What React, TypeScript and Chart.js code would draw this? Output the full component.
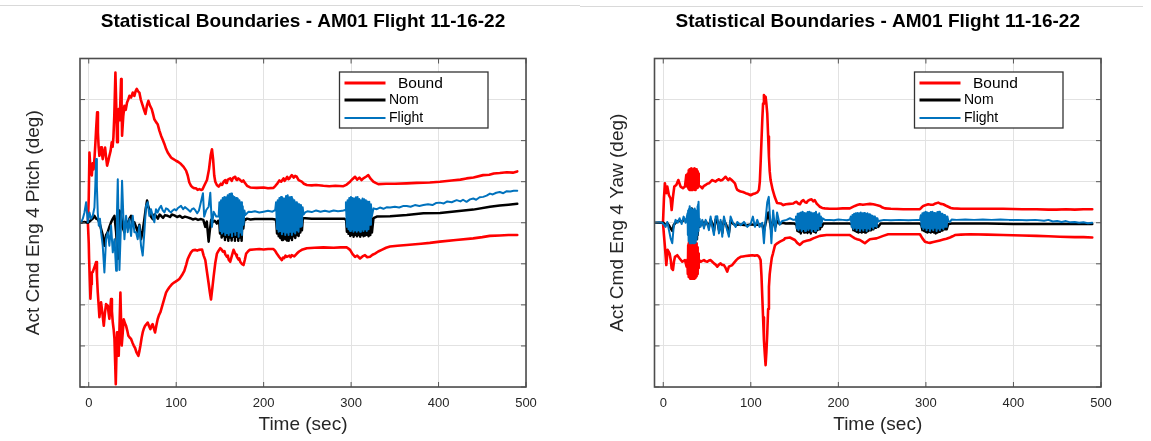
import React, { useEffect, useRef } from "react";
import { Chart, registerables } from "chart.js";

Chart.register(...registerables);

type Pt = [number, number];

// ---------- axes / labels ----------
const X_TICKS = [0, 100, 200, 300, 400, 500];
const Y_GRID = [-4, -3, -2, -1, 0, 1, 2, 3, 4];
const X_RANGE = [-10, 500];
const Y_RANGE = [-4, 4];
const TITLE = "Statistical Boundaries - AM01 Flight 11-16-22";
const X_LABEL = "Time (sec)";
const PITCH_LABEL = "Act Cmd Eng 4 Pitch (deg)";
const YAW_LABEL = "Act Cmd Eng 4 Yaw (deg)";
const LEGEND_NAMES = ["Bound", "Nom", "Flight"];

// ---------- PITCH (left) ----------
const pitchBoundUpper: Pt[] = [
  [-1, 0], [0, 0.6], [0.8, 1.71], [2, 1.3], [3.5, 1.15], [4.5, 1.45], [5.5, 1.3], [6.5, 1.55], [7.5, 1.9], [8.5, 2.3],
  [9.6, 2.69], [10.5, 2.2], [11.3, 1.85], [12.2, 1.63], [13.2, 1.75], [14.1, 1.84], [15, 1.7], [16, 1.55], [17, 1.7],
  [18.7, 1.83], [19.8, 1.6], [21, 1.39], [22.3, 1.5], [23.6, 1.63], [25, 1.75], [26.3, 1.96], [27.3, 1.85], [28.2, 2.08],
  [29.2, 2.6], [30.5, 3.66], [31.4, 2.9], [32.4, 1.96], [33.3, 2.4], [34.3, 2.77], [35.5, 2.5], [36.2, 3.0], [37, 3.5],
  [37.6, 2.8], [38.1, 2.12], [39.5, 2.6], [40.8, 2.85], [42.3, 2.75], [43.8, 2.93], [45.2, 3.0], [46.5, 3.09], [48.4, 3.05],
  [50.3, 3.17], [51.3, 3.1], [52.2, 3.09], [53.5, 3.2], [54.9, 3.26], [56.4, 3.2], [57.9, 3.17], [59.5, 3.0], [61.7, 2.85],
  [63.2, 2.75], [64.8, 2.65], [66.5, 2.85], [68.2, 2.97], [70, 2.85], [72, 2.77], [73.5, 2.65], [75, 2.52], [77, 2.45],
  [78.8, 2.4], [80.7, 2.25], [82.7, 2.12], [84.6, 2.02], [86.5, 1.92], [88.4, 1.8], [90.3, 1.71], [92.2, 1.65], [94.1, 1.59],
  [96, 1.56], [99.8, 1.51], [102.5, 1.48], [105.5, 1.43], [108.5, 1.36], [111.3, 1.27], [113.2, 1.15], [115, 0.98], [117, 0.9],
  [118.8, 0.86], [120.7, 0.84], [122.6, 0.84], [124.5, 0.8], [126.5, 0.82], [128.4, 0.8], [130, 0.81], [132, 0.9],
  [135.2, 1.04], [137.5, 1.3], [139.5, 1.65], [140.9, 1.79], [142.2, 1.55], [143.5, 1.15], [144.7, 1.0], [146.5, 0.92],
  [148.5, 0.88], [151, 0.95], [152.5, 0.92], [154.2, 1.0], [156, 1.04], [157, 0.97], [158, 0.98], [159, 1.05], [160, 1.06],
  [161.8, 1.08], [163.5, 1.02], [164.5, 1.07], [165.5, 1.1], [167.5, 1.12], [168.5, 1.06], [169.5, 1.04], [171, 1.08],
  [173.2, 1.04], [175, 1.0], [176.8, 1.03], [178.9, 0.96], [181, 0.9], [184.6, 0.86], [192.2, 0.85], [200, 0.86], [205, 0.84],
  [211.2, 0.85], [213.5, 0.9], [215.8, 0.96], [218, 1.03], [220, 1.0], [222.7, 1.08], [224, 1.02], [225, 1.05], [227, 1.12],
  [228.3, 1.06], [229.5, 1.08], [231, 1.13], [232.2, 1.16], [234.5, 1.1], [236, 1.14], [237.9, 1.12], [240, 1.04],
  [243.6, 1.0], [246, 0.95], [249.3, 0.92], [255, 0.91], [260, 0.92], [268.3, 0.9], [275, 0.89], [282, 0.9], [291.2, 0.89],
  [295, 0.93], [298.8, 1.0], [301.5, 1.06], [304.5, 1.12], [307, 1.05], [309.5, 1.1], [312, 1.04], [314, 1.08], [317, 1.12],
  [319.7, 1.16], [322, 1.08], [325.4, 1.0], [328, 0.97], [331.1, 0.94], [340, 0.95], [350, 0.95], [363.5, 0.96], [375, 0.97],
  [390, 0.98], [401.5, 1.0], [415, 1.03], [425, 1.05], [432, 1.08], [440, 1.1], [451, 1.16], [458, 1.17], [463.2, 1.2],
  [470, 1.21], [478, 1.23], [485, 1.22], [490, 1.25],
];

const pitchBoundLower: Pt[] = [
  [-1, 0], [0, -0.5], [0.4, -0.88], [1.9, -1.85], [2.8, -1.5], [3.5, -1.21], [4.6, -1.2], [5.7, -1.13], [7, -1.05],
  [8.4, -0.96], [9.4, -1.3], [10.3, -1.69], [11.3, -2.0], [12.2, -2.3], [13.2, -2.1], [14.1, -1.94], [15.6, -2.2],
  [17.2, -2.51], [18.5, -2.2], [19.8, -1.98], [21.7, -2.02], [22.7, -2.2], [23.6, -2.34], [24.5, -2.1], [25.5, -1.86],
  [26.5, -2.15], [27.5, -2.43], [28.5, -2.6], [29.4, -2.83], [30.2, -3.4], [30.9, -3.93], [31.7, -3.2], [32.4, -2.67],
  [33.3, -2.95], [34.3, -3.24], [35.2, -2.5], [36.2, -1.7], [37, -2.4], [37.7, -2.99], [38.8, -2.7], [40, -2.35],
  [41.4, -2.45], [42.7, -2.51], [44, -2.62], [45.3, -2.75], [47, -2.8], [48.4, -2.83], [50, -2.92], [51.4, -2.99],
  [53, -3.05], [54.5, -3.15], [55.7, -3.2], [56.8, -3.24], [58, -3.12], [59.1, -2.99], [60.5, -2.8], [61.7, -2.67],
  [63, -2.58], [64.4, -2.51], [66, -2.47], [67.4, -2.43], [69, -2.52], [70.5, -2.59], [72, -2.5], [73.1, -2.47],
  [74.5, -2.58], [75.8, -2.67], [77.3, -2.5], [78.8, -2.35], [80.3, -2.25], [81.9, -2.18], [83.3, -2.08], [84.6, -1.98],
  [86.5, -1.84], [88.4, -1.7], [90.3, -1.63], [92.2, -1.57], [95, -1.5], [98, -1.45], [101, -1.41], [103.6, -1.37],
  [106.5, -1.28], [109.3, -1.17], [111.3, -1.03], [113.1, -0.89], [115, -0.8], [116.9, -0.72], [119, -0.67], [121.9, -0.66],
  [124, -0.68], [126, -0.66], [129.5, -0.65], [131.4, -0.8], [133.3, -0.91], [135.2, -1.2], [137.1, -1.48], [138.5, -1.7],
  [139.8, -1.87], [141.3, -1.6], [142.8, -1.31], [144.7, -0.98], [146.6, -0.75], [148.5, -0.68], [150.4, -0.62],
  [152.3, -0.66], [153.2, -0.7], [154.2, -0.71], [155.2, -0.69], [156.1, -0.77], [158, -0.83], [159, -0.8], [160, -0.9],
  [161.8, -0.95], [163.7, -0.8], [165.6, -0.66], [167.5, -0.75], [168.5, -0.78], [169.4, -0.83], [171.3, -0.9], [172.2, -0.87],
  [173.2, -0.95], [175, -1.0], [177, -1.03], [178.5, -0.9], [180, -0.75], [182, -0.7], [183.9, -0.66], [188.5, -0.65],
  [195, -0.64], [200, -0.65], [205, -0.64], [211.2, -0.64], [213, -0.68], [215, -0.75], [218, -0.84], [220.8, -0.91],
  [222.2, -0.85], [223.5, -0.86], [225, -0.8], [226.5, -0.83], [229.5, -0.8], [230.8, -0.84], [232.2, -0.79], [235, -0.82],
  [238, -0.75], [240.5, -0.7], [243.6, -0.66], [246.5, -0.64], [249.3, -0.62], [258, -0.61], [268.3, -0.6], [280, -0.61],
  [288, -0.6], [294.9, -0.6], [297, -0.63], [298.8, -0.66], [301.5, -0.76], [304.5, -0.83], [307, -0.8], [310.2, -0.87],
  [313, -0.82], [315.9, -0.79], [318.5, -0.84], [321.6, -0.83], [324.5, -0.78], [327.3, -0.75], [331, -0.7], [335, -0.66],
  [340, -0.61], [344.5, -0.58], [353, -0.56], [363.5, -0.54], [380, -0.51], [390, -0.49], [401.5, -0.46], [420, -0.42],
  [439.6, -0.38], [450, -0.35], [458.6, -0.32], [470, -0.31], [480, -0.3], [490, -0.3],
];

const pitchNom: Pt[] = [
  [-9, 0], [-5, 0.02], [-1, 0], [2, 0.05], [4.6, 0.1], [6.5, 0.17], [8.4, 0.1], [10.3, 0.08], [12.2, 0.01], [14.1, -0.15],
  [16, -0.3], [17.9, -0.56], [19.8, -0.3], [21.7, -0.23], [23.6, -0.1], [25.5, 0.01], [27.5, 0.1], [29.4, 0.17],
  [31.3, -0.23], [33.2, -0.88], [34.2, -0.3], [35.1, 0.3], [37, 0.17], [38.5, -0.1], [40.8, -0.23], [42.7, 0.05],
  [44.6, -0.07], [46.5, 0.1], [48.4, 0.17], [50.3, -0.05], [52.2, 0.01], [54.1, -0.1], [56, -0.23], [57.9, -0.05],
  [59.8, -0.4], [61.7, -0.2], [63.6, 0.09], [65.2, 0.35], [66.7, 0.54], [68, 0.4], [69.3, 0.33], [71, 0.15], [73.1, 0.09],
  [75, 0.2], [76.9, 0.17], [79, 0.1], [81, 0.2], [82.7, 0.17], [85, 0.12], [87, 0.18], [90.3, 0.17], [93, 0.14], [95, 0.2],
  [97.9, 0.18], [101, 0.14], [104, 0.17], [107, 0.12], [110, 0.15], [113.1, 0.13], [116, 0.11], [119, 0.08], [122, 0.1],
  [125, 0.07], [128.4, 0.09], [131, 0.07], [133.3, -0.1], [135, 0.03], [137.1, -0.46], [138.5, -0.18], [140, 0.07],
  [142, 0.02], [144, 0.05], [146.5, -0.02],
  [148, 0.05], [149.2, 0.03], [150.1, -0.26], [151.1, 0.12], [152, -0.36], [153, 0.15], [153.9, -0.32], [154.9, 0.12],
  [155.8, -0.42], [156.8, 0.18], [157.7, -0.35], [158.7, 0.14], [159.6, -0.44], [160.6, 0.12], [161.5, -0.36], [162.5, 0.15],
  [163.4, -0.43], [164.4, 0.1], [165.3, -0.34], [166.3, 0.12], [167.2, -0.44], [168.2, 0.15], [169.1, -0.34], [170.1, 0.12],
  [171, -0.44], [172, 0.1], [172.9, -0.36], [173.9, 0.12], [174.8, -0.44], [175.8, 0.1], [176.7, -0.14], [178, 0.1],
  [179, 0.07],
  [181, 0.1], [185, 0.08], [190, 0.09], [200, 0.09], [210, 0.09],
  [213.5, 0.08], [214.4, 0.03], [215.3, -0.26], [216.3, 0.1], [217.2, -0.33], [218.2, 0.12], [219.1, -0.37], [220.1, 0.1],
  [221, -0.42], [222, 0.14], [222.9, -0.34], [223.9, 0.1], [224.8, -0.4], [225.8, 0.12], [226.7, -0.43], [227.7, 0.1],
  [228.6, -0.44], [229.6, 0.13], [230.5, -0.37], [231.5, 0.1], [232.4, -0.42], [233.4, 0.1], [234.3, -0.33], [235.3, 0.12],
  [236.2, -0.37], [237.2, 0.1], [238.1, -0.3], [239.1, 0.1], [240, -0.32], [241, 0.1], [241.9, -0.24], [242.9, 0.1],
  [243.8, -0.18], [244.8, 0.11], [247.5, 0.11],
  [255, 0.1], [270, 0.1], [285, 0.1], [292, 0.1],
  [293.5, 0.08], [294.3, 0.07], [295.2, -0.22], [296.2, 0.1], [297.1, -0.27], [298.2, 0.12], [299.1, -0.32], [300.1, 0.1],
  [301, -0.29], [302, 0.12], [302.9, -0.34], [303.9, 0.1], [304.8, -0.29], [305.8, 0.12], [306.7, -0.33], [307.7, 0.1],
  [308.6, -0.3], [309.6, 0.1], [310.5, -0.34], [311.5, 0.12], [312.4, -0.29], [313.4, 0.1], [314.3, -0.33], [315.3, 0.1],
  [316.2, -0.31], [317.2, 0.1], [318.1, -0.29], [319.1, 0.1], [320, -0.33], [321, 0.1], [321.9, -0.3], [322.9, 0.1],
  [323.8, -0.24], [325.6, 0.11],
  [329.4, 0.15], [344.6, 0.16], [363.6, 0.19], [382.7, 0.23], [401.7, 0.24], [420.7, 0.28], [439.7, 0.32], [458.8, 0.39],
  [470, 0.42], [480, 0.44], [490, 0.46],
];

const pitchFlight: Pt[] = [
  [-9, 0], [-6.8, 0.1], [-4.9, 0.25], [-3, 0.5], [-1.1, 0.01], [0.8, 0.25], [2.7, 0.1], [4.6, 0.17], [6.5, 0.37],
  [7.5, 0.9], [8.4, 1.55], [9.3, 0.9], [10.3, 0.25], [11.5, -0.07], [12.8, 0.1], [14.1, -0.23], [16, -0.56], [17.9, -1.21],
  [19.8, -0.4], [21.7, -0.23], [23.6, -0.56], [25.5, -0.07], [27.5, -0.72], [29.4, -0.4], [31.3, -1.17], [32.2, 0.2],
  [33.2, 1.06], [34.1, 0], [35.1, -1.15], [36.6, -0.2], [38.1, 1.02], [39.5, 0.2], [40.8, -0.4], [42.7, 0.17],
  [44.6, -0.23], [46.5, 0.09], [48.4, -0.32], [50.3, 0.17], [52.2, -0.23], [54.1, -0.23], [56, -0.4], [57.9, -0.07],
  [59.8, -0.56], [61.7, -0.8], [63.6, -0.23], [65.5, 0.41], [67.4, 0.5], [69.3, 0.17], [71.2, 0.33], [73.1, 0.17],
  [75, 0.01], [76.9, 0.33], [78.8, 0.25], [80.7, 0.35], [82.7, 0.41], [84.6, 0.3], [86.5, 0.25], [88.4, 0.35], [90.3, 0.33],
  [92.2, 0.28], [94.1, 0.25], [96, 0.3], [97.9, 0.33], [100, 0.3], [102, 0.36], [105.5, 0.41], [108, 0.33], [110, 0.38],
  [113.1, 0.33], [116.2, 0.27], [118, 0.33], [120, 0.35], [122, 0.3], [124, 0.23], [126, 0.3], [127.5, 0.43], [130.6, 0.72],
  [132, 0.15], [134.4, 0.31], [137.1, 0.39], [139, 0.73], [140.9, -0.1], [142.8, 0.27], [145.8, 0.15],
  [148.5, 0.15], [149.4, 0.5], [150.4, -0.2], [151.3, 0.55], [152.3, -0.26], [153.2, 0.6], [154.2, -0.22], [155.1, 0.63],
  [156.1, -0.3], [157, 0.62], [158, -0.25], [158.9, 0.67], [160, -0.3], [160.9, 0.7], [161.8, -0.24], [162.8, 0.71],
  [163.8, -0.33], [164.7, 0.66], [165.7, -0.22], [166.6, 0.63], [167.6, -0.3], [168.5, 0.6], [169.5, -0.2], [170.4, 0.59],
  [171.4, -0.34], [172.3, 0.55], [173.3, -0.24], [174.2, 0.5], [175.2, -0.3], [176.1, 0.4], [177.1, -0.05], [178, 0.3],
  [179, 0.19], [182.8, 0.27],
  [186, 0.26], [190, 0.28], [195, 0.25], [200, 0.27], [205, 0.29], [210, 0.27],
  [213.2, 0.31], [214.2, 0.5], [215.2, -0.15], [216.1, 0.55], [217.1, -0.22], [218, 0.6], [219, -0.2], [219.9, 0.63],
  [220.9, -0.28], [221.8, 0.6], [222.8, -0.22], [223.7, 0.59], [224.7, -0.3], [225.6, 0.65], [226.6, -0.24], [227.5, 0.67],
  [228.5, -0.3], [229.4, 0.62], [230.4, -0.22], [231.3, 0.63], [232.3, -0.3], [233.2, 0.58], [234.2, -0.22], [235.1, 0.55],
  [236.1, -0.26], [237, 0.5], [238, -0.18], [238.9, 0.47], [239.9, -0.22], [240.8, 0.45], [241.8, -0.1], [242.7, 0.43],
  [243.7, -0.08], [244.6, 0.38], [245.6, 0.2], [247.5, 0.25],
  [250, 0.28], [255, 0.26], [260, 0.3], [265, 0.27], [270, 0.29], [275, 0.27], [280, 0.3], [285, 0.28], [290, 0.29],
  [293.2, 0.31], [294.1, 0.5], [295.1, -0.1], [296, 0.55], [297, -0.16], [297.9, 0.6], [298.9, -0.2], [299.8, 0.63],
  [300.8, -0.16], [301.7, 0.6], [302.7, -0.22], [303.6, 0.59], [304.6, -0.18], [305.5, 0.62], [306.5, -0.22], [307.4, 0.63],
  [308.4, -0.18], [309.3, 0.58], [310.3, -0.22], [311.2, 0.55], [312.2, -0.16], [313.1, 0.59], [314.1, -0.2], [315, 0.57],
  [316, -0.16], [316.9, 0.55], [317.9, -0.2], [318.8, 0.52], [319.9, -0.16], [320.8, 0.51], [321.8, -0.05], [322.7, 0.45],
  [323.7, 0.15], [325.6, 0.35],
  [329.4, 0.33], [333, 0.37], [337, 0.34], [341, 0.38], [344.6, 0.37], [350, 0.39], [355, 0.37], [360, 0.41], [363.6, 0.41],
  [368, 0.39], [373, 0.43], [378, 0.41], [382.7, 0.43], [388, 0.45], [393, 0.43], [397, 0.48], [401.7, 0.49], [406, 0.47],
  [410, 0.52], [415, 0.5], [420.7, 0.55], [425, 0.52], [428, 0.56], [432, 0.51], [436, 0.57], [439.7, 0.59], [443, 0.56],
  [447, 0.62], [451, 0.63], [455, 0.66], [458.8, 0.71], [462, 0.69], [466, 0.73], [470, 0.75], [474, 0.72], [478, 0.77],
  [482, 0.76], [486, 0.78], [490, 0.78],
];

// ---------- YAW (right) ----------
const yawBoundUpper: Pt[] = [
  [-0.3, 0], [0.8, 0.6], [1.9, 0.96], [3.5, 0.72], [4.6, 0.88], [6.5, 0.67], [8.4, 0.59], [9.6, 0.31], [11.1, 0.63],
  [12.6, 0.88], [14.9, 0.92], [17.2, 1.04], [19.8, 0.88], [22.5, 0.84], [24.8, 0.88], [26.3, 1.16], [27.5, 0.88],
  [27.9, 1.0], [28.2, 1.2], [28.5, 0.85], [28.8, 1.28], [29.1, 0.82], [29.4, 1.25], [29.7, 0.9], [30, 1.3], [30.3, 0.8],
  [30.6, 1.22], [30.9, 0.84], [31.2, 1.3], [31.5, 0.86], [31.8, 1.32], [32.1, 0.8], [32.4, 1.26], [32.7, 0.88], [33, 1.3],
  [33.3, 0.82], [33.6, 1.2], [33.9, 0.8], [34.2, 1.28], [34.5, 0.85], [34.8, 1.3], [35.1, 0.88], [35.4, 1.32], [35.7, 0.84],
  [36, 1.25], [36.3, 0.8], [36.6, 1.28], [36.9, 0.86], [37.2, 1.3], [37.5, 0.84], [37.8, 1.26], [38.1, 0.88], [38.4, 1.3],
  [38.7, 0.85], [39, 1.22], [39.3, 0.9], [39.6, 1.25], [39.9, 0.92], [40.2, 1.2], [40.5, 0.95], [40.8, 0.9],
  [42.7, 0.88], [44.6, 0.84], [46.5, 0.9], [48.4, 0.92], [50.3, 0.95], [52.2, 0.96], [54.1, 1.0], [56, 1.04], [57.9, 1.02],
  [59.8, 1.0], [61.7, 1.04], [63.6, 1.06], [65.5, 1.03], [67.4, 1.04], [69.3, 1.08], [71.2, 1.12], [73, 1.07], [74.3, 1.04],
  [76, 1.08], [78.1, 1.04], [80, 1.0], [81.9, 0.96], [83.3, 0.86], [84.6, 0.8], [86.5, 0.78], [88.4, 0.76], [91, 0.75],
  [94.1, 0.72], [97, 0.7], [99.8, 0.67], [102.5, 0.7], [105.5, 0.72], [107.5, 0.74], [109.3, 0.8], [110.3, 1.0],
  [111.2, 1.45], [112.2, 2.0], [113.1, 2.5], [114, 2.9], [115, 3.11], [116, 3.0], [116.9, 3.07], [117.8, 2.9], [118.8, 2.66],
  [119.8, 2.1], [120.7, 1.61], [121.6, 1.25], [122.6, 1.04], [125, 0.8], [127.5, 0.62], [130, 0.48], [134.1, 0.47],
  [137.1, 0.43], [140, 0.45], [144, 0.46], [148.5, 0.47], [150.5, 0.5], [152.3, 0.51], [154, 0.47], [156.1, 0.45],
  [158, 0.52], [160, 0.55], [162, 0.5], [163.7, 0.49], [165.5, 0.54], [167.5, 0.56], [169.4, 0.57], [171.5, 0.52],
  [173, 0.55], [175.1, 0.47], [177, 0.43], [178.9, 0.39], [181.5, 0.36], [184.6, 0.35], [190, 0.34], [197.9, 0.34],
  [205, 0.35], [213.2, 0.35], [216, 0.38], [218.9, 0.41], [221.5, 0.43], [224.6, 0.45], [228, 0.44], [232.3, 0.45],
  [236, 0.46], [239.9, 0.45], [243.5, 0.43], [247.5, 0.41], [250.5, 0.37], [253.2, 0.35], [260, 0.34], [274.1, 0.33],
  [285, 0.33], [293.2, 0.33], [295, 0.37], [297, 0.41], [300, 0.43], [302.7, 0.45], [305.5, 0.44], [308.4, 0.44],
  [311, 0.47], [314.1, 0.49], [317, 0.46], [319.8, 0.45], [322.5, 0.42], [325.5, 0.39], [328.5, 0.36], [331.2, 0.35],
  [340, 0.34], [350.3, 0.34], [370, 0.34], [388.3, 0.34], [410, 0.33], [426.4, 0.33], [440, 0.32], [449.2, 0.32],
  [460, 0.33], [470, 0.32], [480, 0.33], [490, 0.33],
];

const yawBoundLower: Pt[] = [
  [-0.3, 0], [0.8, -0.3], [1.9, -0.58], [3.5, -1.03], [5, -0.66], [7.3, -0.75], [8.5, -0.9], [9.6, -1.11], [11.1, -1.15],
  [12.2, -0.95], [13.4, -0.83], [16, -0.79], [18.7, -0.87], [21.7, -0.95], [24.8, -0.91], [26.7, -1.07], [27.5, -0.9],
  [27.9, -1.0], [28.2, -1.25], [28.5, -0.55], [28.8, -1.3], [29.1, -0.5], [29.4, -1.32], [29.7, -0.45], [30, -1.28],
  [30.3, -0.5], [30.6, -1.36], [30.9, -0.42], [31.2, -1.3], [31.5, -0.48], [31.8, -1.35], [32.1, -0.45], [32.4, -1.32],
  [32.7, -0.5], [33, -1.36], [33.3, -0.44], [33.6, -1.3], [33.9, -0.48], [34.2, -1.34], [34.5, -0.42], [34.8, -1.3],
  [35.1, -0.5], [35.4, -1.36], [35.7, -0.46], [36, -1.32], [36.3, -0.5], [36.6, -1.34], [36.9, -0.48], [37.2, -1.3],
  [37.5, -0.55], [37.8, -1.28], [38.1, -0.5], [38.4, -1.3], [38.7, -0.6], [39, -1.25], [39.3, -0.65], [39.6, -1.2],
  [39.9, -0.75], [40.2, -1.1], [40.5, -0.85], [40.8, -0.9],
  [42.7, -0.95], [44.6, -0.93], [46.5, -0.91], [48.4, -0.94], [50.3, -0.95], [52.2, -0.92], [54.1, -0.91], [56, -0.95],
  [57.9, -0.99], [59.8, -1.02], [61.7, -1.07], [63.6, -1.02], [65.5, -0.99], [67.4, -1.03], [69.3, -1.03], [71.2, -1.1],
  [73.1, -1.19], [75, -1.07], [76.9, -1.05], [78.8, -1.03], [81, -0.97], [83.4, -0.91], [86, -0.86], [88.4, -0.83],
  [91, -0.82], [94.1, -0.81], [98, -0.8], [101.7, -0.79], [104.5, -0.8], [107.4, -0.79], [109.5, -0.83], [111.2, -0.91],
  [112.2, -1.3], [113.1, -1.8], [114, -2.3], [115, -2.86], [116, -3.2], [116.9, -3.47], [117.8, -3.15], [118.8, -2.69],
  [119.8, -2.1], [120.7, -1.56], [121.6, -1.25], [122.6, -1.07], [124, -0.85], [125.3, -0.75], [127.6, -0.55],
  [130.2, -0.5], [133.3, -0.46], [137.9, -0.41], [139, -0.38], [141, -0.37], [144.7, -0.36], [147.5, -0.39], [150.4, -0.42],
  [153, -0.49], [156.1, -0.54], [158, -0.5], [160, -0.46], [163.7, -0.44], [167.5, -0.42], [171.3, -0.38], [175, -0.35],
  [178.9, -0.32], [186.5, -0.3], [200, -0.3], [213.2, -0.3], [216, -0.34], [218.9, -0.38], [221.5, -0.4], [224.6, -0.42],
  [227.5, -0.46], [230.3, -0.5], [233, -0.45], [236, -0.4], [240, -0.39], [243.6, -0.38], [247.5, -0.35], [251.2, -0.32],
  [256.9, -0.28], [270, -0.28], [285, -0.28], [293.2, -0.28], [296, -0.38], [298.9, -0.46], [302, -0.48], [304.6, -0.49],
  [308.5, -0.47], [312.2, -0.45], [316, -0.43], [319.8, -0.41], [323.5, -0.39], [327.5, -0.36], [330.5, -0.33],
  [333.2, -0.3], [340, -0.29], [350.3, -0.28], [370, -0.29], [388.3, -0.3], [410, -0.31], [426.4, -0.32], [440, -0.33],
  [453, -0.34], [470, -0.35], [480, -0.35], [490, -0.36],
];

const yawNom: Pt[] = [
  [-9, 0], [-5, 0], [0, 0], [2.7, -0.05], [5, -0.02], [7, -0.08], [10.3, -0.2], [12, -0.05], [15, 0.02], [18, 0.05],
  [21, 0.02], [24, 0.08], [26.5, 0.05], [28, 0.15], [28.8, -0.1], [29.5, 0.25], [30.3, -0.15], [31, 0.3], [31.8, -0.2],
  [32.5, 0.35], [33.3, -0.25], [34, 0.3], [34.8, -0.3], [35.5, 0.25], [36.3, -0.35], [37, 0.2], [37.8, -0.4], [38.5, 0.15],
  [39.3, -0.3], [40, 0.1], [41, -0.1], [42.7, -0.05], [44.6, 0.03], [46.5, -0.08], [48.4, 0.03], [50.3, -0.02],
  [52.2, -0.1], [54.1, 0.08], [56, -0.02], [57.9, -0.2], [59.8, 0.08], [61.7, 0.06], [63.6, -0.18], [65.5, 0.02],
  [67.4, -0.25], [69.3, 0.06], [72, -0.05], [75, -0.25], [76.9, 0.05], [79.6, -0.02], [82.7, -0.06], [86, -0.04],
  [90, -0.05], [95, -0.06], [100, -0.04], [105, -0.05], [110, -0.04], [113, -0.05], [115, -0.2], [117, 0], [120, 0.25],
  [122, 0], [123.5, -0.2], [125.5, 0.1], [128, -0.1], [130, 0.05], [133, -0.03], [136, 0], [140, -0.02], [145, -0.01],
  [150, -0.02],
  [151.5, -0.04], [152.3, -0.06], [153.3, -0.2], [154.2, -0.02], [155.2, -0.22], [156.1, -0.04], [157.1, -0.26],
  [158, -0.02], [159, -0.2], [159.9, 0], [160.9, -0.24], [161.8, -0.03], [162.8, -0.22], [163.8, -0.02], [164.7, -0.25],
  [165.7, 0], [166.6, -0.22], [167.6, -0.03], [168.5, -0.26], [169.5, -0.02], [170.4, -0.2], [171.4, 0], [172.3, -0.22],
  [173.3, -0.02], [174.2, -0.24], [175.2, 0], [176.1, -0.18], [177.1, -0.02], [178, -0.16], [179, -0.02], [180.9, -0.1],
  [182.8, -0.02],
  [190, -0.02], [200, -0.02], [213, -0.02],
  [215.3, -0.04], [216.3, -0.08], [217.2, -0.18], [218.2, -0.02], [219.1, -0.2], [220.1, -0.02], [221, -0.22],
  [222, -0.03], [222.9, -0.24], [223.9, -0.02], [224.8, -0.22], [225.8, 0], [226.7, -0.24], [227.7, -0.02], [228.6, -0.22],
  [229.6, -0.01], [230.5, -0.24], [231.5, -0.02], [232.4, -0.22], [233.4, -0.02], [234.3, -0.2], [235.3, -0.02],
  [236.2, -0.18], [237.2, -0.03], [238.1, -0.16], [239.1, -0.02], [240, -0.16], [241, -0.03], [242, -0.12], [243, -0.03],
  [245.6, -0.1], [248.3, -0.02],
  [260, -0.02], [275, -0.02], [293, -0.02],
  [294.2, -0.04], [295.1, -0.08], [296, -0.18], [297, -0.02], [297.9, -0.2], [298.9, -0.02], [299.8, -0.22], [300.8, -0.03],
  [301.7, -0.24], [302.7, 0], [303.6, -0.22], [304.6, -0.02], [305.5, -0.24], [306.5, -0.02], [307.4, -0.22], [308.4, -0.01],
  [309.3, -0.24], [310.3, -0.02], [311.2, -0.26], [312.2, -0.02], [313.1, -0.24], [314.1, 0], [315, -0.22], [316, -0.02],
  [316.9, -0.2], [318, -0.02], [318.9, -0.19], [319.9, -0.03], [320.8, -0.16], [321.8, -0.03], [323.7, -0.16],
  [325.6, -0.03], [329.4, -0.02],
  [340, -0.02], [370, -0.02], [400, -0.03], [430, -0.03], [460, -0.03], [490, -0.03],
];

const yawFlight: Pt[] = [
  [-9, 0], [-5, 0.01], [-1.1, 0], [1, -0.05], [2.7, -0.1], [4.6, 0.02], [6.5, -0.18], [8.4, -0.38], [10.3, -0.5],
  [11.9, -0.1], [14.1, 0.07], [16.4, 0], [18.7, 0.11], [21, -0.03], [23.3, 0.15], [25.5, 0], [27.8, 0.23],
  [28.1, -0.3], [28.4, 0.3], [28.7, -0.4], [29, 0.2], [29.3, -0.45], [29.6, 0.35], [29.9, -0.3], [30.2, 0.4], [30.5, -0.5],
  [30.8, 0.25], [31.1, -0.45], [31.4, 0.3], [31.7, -0.5], [32, 0.2], [32.3, -0.4], [32.6, 0.35], [32.9, -0.48], [33.2, 0.3],
  [33.5, -0.42], [33.8, 0.25], [34.1, -0.5], [34.4, 0.32], [34.7, -0.45], [35, 0.28], [35.3, -0.5], [35.6, 0.3], [35.9, -0.4],
  [36.2, 0.35], [36.5, -0.48], [36.8, 0.22], [37.1, -0.42], [37.4, 0.3], [37.7, -0.35], [38, 0.25], [38.3, -0.4], [38.6, 0.3],
  [38.9, -0.3], [39.2, 0.4], [39.5, -0.25], [39.8, 0.45], [40.1, -0.2], [40.5, 0.51], [40.9, 0], [41.5, 0.1],
  [42.7, -0.1], [44.6, 0.07], [46.5, -0.14], [48.4, 0.07], [50.3, -0.03], [52.2, -0.18], [54.1, 0.15], [56, -0.1],
  [57.9, -0.3], [59.8, 0.15], [61.7, 0.16], [63.6, -0.26], [65.5, 0.07], [67.4, -0.34], [69.3, 0.15], [72, -0.1],
  [75, -0.34], [76.9, 0.15], [79.6, 0], [82.7, -0.1], [84.6, 0.02], [88.4, -0.06], [92.2, 0.02], [96, -0.1], [99.8, -0.03],
  [102.4, 0.15], [104.7, -0.1], [107.4, 0.07], [110, -0.1], [113.1, 0], [115, -0.5], [117, 0.1], [118.8, 0.5],
  [120.5, 0.63], [122, 0.1], [123.5, -0.5], [125.5, 0.3], [128, -0.2], [130, 0.25], [133, -0.05], [135.2, 0.03],
  [137.1, 0.05], [140.9, 0.07], [144.7, 0.11], [148.5, 0.07],
  [150.5, 0.08], [151.6, 0.15], [152.5, -0.14], [153.5, 0.22], [154.4, -0.18], [155.4, 0.23], [156.3, -0.14], [157.3, 0.25],
  [158.2, -0.2], [159.2, 0.27], [160.1, -0.15], [161.1, 0.24], [162, -0.2], [163, 0.23], [163.9, -0.14], [164.9, 0.26],
  [165.8, -0.18], [166.8, 0.27], [167.7, -0.14], [168.7, 0.25], [169.6, -0.21], [170.6, 0.23], [171.5, -0.15], [172.5, 0.24],
  [173.4, -0.2], [174.4, 0.27], [175.3, -0.14], [176.3, 0.2], [177.2, -0.16], [178.2, 0.23], [179.1, -0.08], [180.1, 0.15],
  [181, 0], [182, 0.11], [184.7, 0.07],
  [190, 0.07], [195, 0.06], [200, 0.08], [205, 0.07], [210, 0.06],
  [213.2, 0.08], [214.2, 0.15], [215.2, -0.1], [216.1, 0.19], [217.1, -0.15], [218, 0.22], [219, -0.12], [219.9, 0.23],
  [220.9, -0.18], [221.8, 0.24], [222.8, -0.13], [223.7, 0.23], [224.7, -0.2], [225.6, 0.25], [226.6, -0.14], [227.5, 0.23],
  [228.5, -0.19], [229.4, 0.24], [230.4, -0.13], [231.3, 0.22], [232.3, -0.2], [233.2, 0.23], [234.2, -0.14], [235.1, 0.21],
  [236.1, -0.17], [237, 0.19], [238, -0.1], [238.9, 0.17], [239.9, -0.14], [240.8, 0.15], [241.8, -0.08], [242.7, 0.12],
  [243.7, -0.1], [244.6, 0.11], [245.6, 0.03], [247.5, 0.05],
  [252, 0.07], [260, 0.06], [270, 0.07], [280, 0.06], [290, 0.07],
  [293.2, 0.07], [294.1, 0.18], [295.1, -0.1], [296, 0.23], [297, -0.15], [297.9, 0.25], [298.9, -0.12], [299.8, 0.27],
  [300.8, -0.18], [301.7, 0.25], [302.7, -0.13], [303.6, 0.24], [304.6, -0.2], [305.5, 0.26], [306.5, -0.14], [307.4, 0.27],
  [308.4, -0.18], [309.3, 0.24], [310.3, -0.12], [311.2, 0.23], [312.2, -0.2], [313.1, 0.26], [314.1, -0.14], [315, 0.27],
  [316, -0.18], [316.9, 0.23], [318, -0.12], [318.9, 0.22], [319.9, -0.15], [320.8, 0.19], [321.8, -0.1], [322.7, 0.16],
  [323.7, -0.1], [324.6, 0.15], [325.6, 0.04], [327.5, 0.02], [329.4, 0.08],
  [335, 0.07], [345, 0.08], [355, 0.07], [365, 0.08], [375, 0.07], [385, 0.08], [395, 0.07], [405, 0.07], [415, 0.06],
  [425, 0.07], [435, 0.05], [440, 0.07], [445, 0.03], [450, 0.04], [455, 0.02], [460, 0.04], [465, 0.01], [470, 0.02],
  [475, 0], [480, 0.01], [485, -0.01], [490, 0],
];

// ---------- styling ----------
const RED = "#ff0000";
const BLACK = "#000000";
const BLUE = "#0072BD";
const FONT = "'Liberation Sans', Arial, Helvetica, sans-serif";
const AXIS_TEXT = "#262626";

const toXY = (arr: Pt[]) => arr.map(([x, y]) => ({ x, y }));

const framePlugin = {
  id: "matlabFrame",
  afterDatasetsDraw(chart: any) {
    const { ctx, chartArea: a, scales } = chart;
    ctx.save();
    ctx.strokeStyle = "#555555";
    ctx.lineWidth = 1;
    ctx.beginPath();
    for (const v of X_TICKS) {
      const px = scales.x.getPixelForValue(v);
      ctx.moveTo(px, a.bottom);
      ctx.lineTo(px, a.bottom - 5);
      ctx.moveTo(px, a.top);
      ctx.lineTo(px, a.top + 5);
    }
    for (const v of Y_GRID) {
      const py = scales.y.getPixelForValue(v);
      ctx.moveTo(a.left, py);
      ctx.lineTo(a.left + 5, py);
      ctx.moveTo(a.right, py);
      ctx.lineTo(a.right - 5, py);
    }
    ctx.stroke();
    ctx.lineWidth = 1.6;
    ctx.strokeStyle = "#4d4d4d";
    ctx.strokeRect(a.left, a.top, a.right - a.left, a.bottom - a.top);
    ctx.restore();
  },
};

const legendPlugin = {
  id: "matlabLegend",
  afterDraw(chart: any) {
    const { ctx, chartArea: a } = chart;
    const w = 148.5;
    const h = 56;
    const bx = a.right - 38 - w;
    const by = a.top + 13.5;
    ctx.save();
    ctx.fillStyle = "#ffffff";
    ctx.fillRect(bx, by, w, h);
    ctx.strokeStyle = "#333333";
    ctx.lineWidth = 1.3;
    ctx.strokeRect(bx, by, w, h);
    const rows = [
      { name: LEGEND_NAMES[0], color: RED, lw: 3, y: 11, tx: 58.5, size: 15.5 },
      { name: LEGEND_NAMES[1], color: BLACK, lw: 3, y: 28, tx: 49.5, size: 14 },
      { name: LEGEND_NAMES[2], color: BLUE, lw: 2.2, y: 46, tx: 49.5, size: 14 },
    ];
    for (const r of rows) {
      ctx.strokeStyle = r.color;
      ctx.lineWidth = r.lw;
      ctx.beginPath();
      ctx.moveTo(bx + 5, by + r.y);
      ctx.lineTo(bx + 46, by + r.y);
      ctx.stroke();
      ctx.fillStyle = "#000000";
      ctx.font = `${r.size}px ${FONT}`;
      ctx.textBaseline = "middle";
      ctx.textAlign = "left";
      ctx.fillText(r.name, bx + r.tx, by + r.y + 0.5);
    }
    ctx.restore();
  },
};

type PanelProps = {
  left: number;
  width: number;
  yLabel: string;
  yScaleWidth: number;
  yTitlePad: number;
  upper: Pt[];
  lower: Pt[];
  nom: Pt[];
  flight: Pt[];
};

function Panel(p: PanelProps) {
  const ref = useRef<HTMLCanvasElement | null>(null);
  useEffect(() => {
    if (!ref.current) return;
    // Chart.js paints dataset 0 last (on top): Flight over Nom over Bound, as in the original plot
    const chart = new Chart(ref.current, {
      type: "line",
      data: {
        datasets: [
          { label: "Flight", data: toXY(p.flight), borderColor: BLUE, borderWidth: 2 },
          { label: "Nom", data: toXY(p.nom), borderColor: BLACK, borderWidth: 2.5 },
          { label: "Bound lower", data: toXY(p.lower), borderColor: RED, borderWidth: 2.6 },
          { label: "Bound", data: toXY(p.upper), borderColor: RED, borderWidth: 2.6 },
        ],
      },
      options: {
        responsive: false,
        animation: false,
        devicePixelRatio: 1,
        events: [],
        elements: {
          point: { radius: 0, hoverRadius: 0 },
          line: { tension: 0, borderJoinStyle: "round", borderCapStyle: "round", fill: false },
        },
        layout: { padding: { left: 0, right: 50, top: 0, bottom: 0 } },
        plugins: {
          legend: { display: false },
          tooltip: { enabled: false },
          title: {
            display: true,
            text: TITLE,
            fullSize: false,
            color: "#000000",
            font: { family: FONT, size: 19, weight: "bold" },
            padding: { top: 10.8, bottom: 24.9 },
          },
        },
        scales: {
          x: {
            type: "linear",
            min: X_RANGE[0],
            max: X_RANGE[1],
            afterBuildTicks: (s: any) => {
              s.ticks = X_TICKS.map((v) => ({ value: v }));
            },
            afterFit: (s: any) => {
              s.height = 54;
            },
            grid: { color: "#e2e2e2", lineWidth: 1, drawTicks: false },
            border: { display: false },
            ticks: {
              color: AXIS_TEXT,
              font: { family: FONT, size: 13 },
              padding: 8.5,
              maxRotation: 0,
              autoSkip: false,
            },
            title: {
              display: true,
              text: X_LABEL,
              color: AXIS_TEXT,
              font: { family: FONT, size: 19 },
              padding: { top: 0, bottom: 4.8 },
            },
          },
          y: {
            type: "linear",
            min: Y_RANGE[0],
            max: Y_RANGE[1],
            afterBuildTicks: (s: any) => {
              s.ticks = Y_GRID.map((v) => ({ value: v }));
            },
            afterFit: (s: any) => {
              s.width = p.yScaleWidth;
            },
            grid: { color: "#e2e2e2", lineWidth: 1, drawTicks: false },
            border: { display: false },
            ticks: { display: false },
            title: {
              display: true,
              text: p.yLabel,
              color: AXIS_TEXT,
              font: { family: FONT, size: 19 },
              padding: { top: p.yTitlePad, bottom: 0 },
            },
          },
        },
      } as any,
      plugins: [framePlugin, legendPlugin],
    });
    return () => chart.destroy();
  }, []);
  return (
    <canvas
      ref={ref}
      width={p.width}
      height={441}
      style={{ position: "absolute", left: p.left, top: 0, width: p.width, height: 441 }}
    />
  );
}

export default function App() {
  return (
    <div
      style={{
        position: "fixed",
        left: 0,
        top: 0,
        width: 1151,
        height: 441,
        background: "#ffffff",
        overflow: "hidden",
      }}
    >
      <div style={{ position: "absolute", left: 0, top: 5, width: 580, height: 1, background: "#d9d9d9" }} />
      <div style={{ position: "absolute", left: 580, top: 6, width: 563, height: 1, background: "#d9d9d9" }} />
      <Panel
        left={0}
        width={576}
        yLabel={PITCH_LABEL}
        yScaleWidth={80}
        yTitlePad={22.6}
        upper={pitchBoundUpper}
        lower={pitchBoundLower}
        nom={pitchNom}
        flight={pitchFlight}
      />
      <Panel
        left={576}
        width={575}
        yLabel={YAW_LABEL}
        yScaleWidth={78.5}
        yTitlePad={30.5}
        upper={yawBoundUpper}
        lower={yawBoundLower}
        nom={yawNom}
        flight={yawFlight}
      />
    </div>
  );
}
